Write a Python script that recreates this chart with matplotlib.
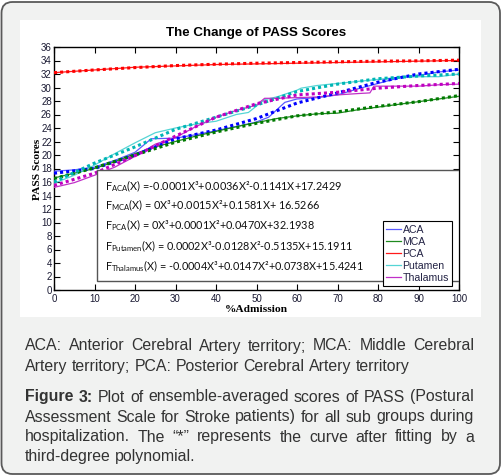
import matplotlib
matplotlib.use('Agg')
import matplotlib.pyplot as plt
from matplotlib.patches import FancyBboxPatch, Rectangle
from matplotlib.lines import Line2D
from matplotlib.transforms import IdentityTransform

# ---------------- data ----------------
groups = ['ACA', 'MCA', 'PCA', 'Putamen', 'Thalamus']

fit_x = [0, 10, 20, 30, 40, 50, 60, 70, 80, 90, 100]
aca_fit = [17.3, 18.0, 20.0, 22.4, 23.7, 25.4, 27.7, 29.2, 30.8, 32.0, 32.7]
mca_fit = [16.5, 18.1, 20.0, 21.9, 23.4, 24.7, 25.8, 26.4, 27.2, 27.9, 28.8]
pca_fit = [32.2, 32.6, 32.95, 33.25, 33.45, 33.6, 33.7, 33.8, 33.9, 33.95, 34.05]
put_fit = [16.0, 18.8, 21.2, 23.8, 25.6, 27.4, 29.4, 30.5, 31.3, 31.7, 32.0]
tha_fit = [15.5, 17.3, 19.9, 22.8, 25.6, 27.6, 28.9, 29.3, 29.9, 30.3, 30.6]

aca_raw_x = [0, 5, 10, 15, 20, 24, 30, 35, 40, 45, 50, 53, 57, 60, 65, 70, 75, 80, 85, 90, 95, 100]
aca_raw = [17.6, 17.8, 18.2, 19.2, 20.4, 22.4, 22.5, 23.0, 23.6, 24.2, 24.9, 25.6, 27.8, 28.3, 28.5,
           28.9, 29.8, 30.6, 31.4, 31.8, 32.3, 32.6]
mca_raw_x = [0, 5, 10, 15, 20, 25, 30, 35, 40, 45, 50, 55, 60, 65, 70, 75, 80, 85, 90, 95, 100]
mca_raw = [16.6, 17.3, 18.0, 19.0, 20.2, 21.2, 22.0, 22.8, 23.5, 24.2, 24.8, 25.4, 25.8, 26.1, 26.2,
           26.7, 27.1, 27.5, 27.9, 28.3, 28.7]
pca_raw_x = [0, 10, 20, 30, 40, 50, 60, 70, 80, 90, 100]
pca_raw = [32.2, 32.6, 33.0, 33.2, 33.4, 33.5, 33.6, 33.7, 33.8, 33.9, 34.0]
put_raw_x = [0, 5, 10, 15, 20, 25, 30, 35, 40, 45, 48, 52, 55, 60, 61, 65, 70, 75, 80, 85, 90, 95, 100]
put_raw = [15.8, 17.0, 18.5, 20.2, 21.8, 23.3, 24.0, 24.6, 25.0, 26.0, 26.3, 28.2, 28.6, 29.6, 29.9,
           30.3, 30.6, 30.9, 31.2, 31.5, 31.6, 31.6, 32.0]
tha_raw_x = [0, 5, 10, 15, 20, 25, 30, 35, 40, 45, 50, 52, 55, 60, 65, 70, 75, 78, 79, 85, 90, 95, 100]
tha_raw = [15.2, 15.9, 17.0, 18.2, 19.8, 21.6, 22.6, 24.2, 25.6, 26.6, 27.4, 28.4, 28.4, 28.5, 28.6,
           28.9, 29.1, 29.2, 30.2, 30.2, 30.2, 30.4, 30.5]

raw_x = [aca_raw_x, mca_raw_x, pca_raw_x, put_raw_x, tha_raw_x]
raw_y = [aca_raw, mca_raw, pca_raw, put_raw, tha_raw]
fit_y = [aca_fit, mca_fit, pca_fit, put_fit, tha_fit]

raw_colors = ['#5a5aff', '#1f8a1f', '#ff1a1a', '#55d5d5', '#c030c8']
fit_colors = ['#0000ff', '#007a00', '#ff0000', '#00b5b5', '#c000c0']

equations = [
    r'F$_{\mathrm{ACA}}$(X) =-0.0001X³+0.0036X²-0.1141X+17.2429',
    r'F$_{\mathrm{MCA}}$(X) = 0X³+0.0015X²+0.1581X+ 16.5266',
    r'F$_{\mathrm{PCA}}$(X) = 0X³+0.0001X²+0.0470X+32.1938',
    r'F$_{\mathrm{Putamen}}$(X) = 0.0002X³-0.0128X²-0.5135X+15.1911',
    r'F$_{\mathrm{Thalamus}}$(X) = -0.0004X³+0.0147X²+0.0738X+15.4241',
]

x_ticks = list(range(0, 101, 10))
y_ticks = list(range(0, 37, 2))

caption_lines = [
    ([('ACA:', 0), ('Anterior', 0), ('Cerebral', 0), ('Artery', 0), ('territory;', 0), ('MCA:', 0),
      ('Middle', 0), ('Cerebral', 0)], True, 350.5),
    ([('Artery', 0), ('territory;', 0), ('PCA:', 0), ('Posterior', 0), ('Cerebral', 0), ('Artery', 0),
      ('territory', 0)], False, 371),
    ([('Figure', 1), ('3:', 1), ('Plot', 0), ('of', 0), ('ensemble-averaged', 0), ('scores', 0), ('of', 0),
      ('PASS', 0), ('(Postural', 0)], True, 401.5),
    ([('Assessment', 0), ('Scale', 0), ('for', 0), ('Stroke', 0), ('patients)', 0), ('for', 0), ('all', 0),
      ('sub', 0), ('groups', 0), ('during', 0)], True, 421.5),
    ([('hospitalization.', 0), ('The', 0), ('“*”', 0), ('represents', 0), ('the', 0), ('curve', 0),
      ('after', 0), ('fitting', 0), ('by', 0), ('a', 0)], True, 441.5),
    ([('third-degree', 0), ('polynomial.', 0)], False, 461.5),
]

# ---------------- figure ----------------
plt.rcParams['font.family'] = ['Liberation Sans Narrow', 'Liberation Sans', 'DejaVu Sans']
plt.rcParams['mathtext.fontset'] = 'custom'
plt.rcParams['mathtext.rm'] = 'Lato'
plt.rcParams['mathtext.it'] = 'Lato:italic'
plt.rcParams['mathtext.bf'] = 'Lato:bold'

W, H = 502, 476
fig = plt.figure(figsize=(W / 100, H / 100), dpi=100)
fig.patch.set_facecolor('white')
ident = IdentityTransform()

outer = FancyBboxPatch((1.5, 2.0), 498.5, 472.0, boxstyle='round,pad=0,rounding_size=11',
                       transform=ident, facecolor='#f1f2f1', edgecolor='#5a5a5a', linewidth=1.3,
                       zorder=-10)
fig.add_artist(outer)
panel = Rectangle((20, H - 317), 461, 297, transform=ident, facecolor='white', edgecolor='none',
                  zorder=-9)
fig.add_artist(panel)

ax = fig.add_axes([54 / W, 1 - 290 / H, 405 / W, 243 / H])
ax.set_xlim(0, 100)
ax.set_ylim(0, 36)
ax.set_xticks(x_ticks)
ax.set_yticks(y_ticks)
ax.tick_params(direction='in', length=4, width=0.8, top=True, right=True, labelsize=7.0,
               labelcolor='#1a1a33')
ax.tick_params(axis='y', pad=1.5)
ax.tick_params(axis='x', pad=3)
for s in ax.spines.values():
    s.set_linewidth(1.0)

handles = []
for i, g in enumerate(groups):
    ln, = ax.plot(raw_x[i], raw_y[i], color=raw_colors[i], lw=0.9, zorder=3)
    handles.append(ln)
for i, g in enumerate(groups):
    ax.plot(fit_x, fit_y[i], color=fit_colors[i], lw=2.2, ls=(0, (1.0, 1.0)), zorder=4)

# equation box
box = Rectangle((0.105, 0.037), 0.895, 0.456, transform=ax.transAxes, facecolor='white',
                edgecolor='#555555', linewidth=1.0, zorder=5)
ax.add_patch(box)
eq_y = [0.428, 0.347, 0.265, 0.182, 0.099]
for t, yy in zip(equations, eq_y):
    ax.text(0.126, yy, t, transform=ax.transAxes, fontsize=7.8, family='Lato', va='center',
            ha='left', color='#111111', zorder=6)

leg = ax.legend(handles, groups, loc='lower right', bbox_to_anchor=(0.983, 0.016),
                fancybox=False, edgecolor='black', framealpha=1, borderaxespad=0,
                prop={'family': 'Liberation Sans', 'size': 7.6}, handlelength=1.4,
                handletextpad=0.15, labelspacing=0.2, borderpad=0.3)
leg.get_frame().set_linewidth(0.8)
leg.set_zorder(7)
for txt in leg.get_texts():
    txt.set_color('#222244')

# titles / labels in pixel coordinates
fig.text(256, H - 33, 'The Change of PASS Scores', transform=ident, ha='center', va='center',
         family='Liberation Sans', weight='bold', fontsize=9.6, color='black')
fig.text(37, H - 169, 'PASS Scores', transform=ident, ha='center', va='center', rotation=90,
         family='Liberation Serif', weight='bold', fontsize=8.2, color='black')
fig.text(256, H - 310, '%Admission', transform=ident, ha='center', va='center',
         family='Liberation Serif', weight='bold', fontsize=8.2, color='black')

# caption, justified
renderer = fig.canvas.get_renderer()
X0, X1 = 25, 474
CAP_FS = 11.4
for words, justify, base in caption_lines:
    texts = []
    for w, b in words:
        t = fig.text(0, 0, w, transform=ident, ha='left', va='baseline', fontsize=CAP_FS,
                     family='Liberation Sans', weight='bold' if b else 'normal', color='#333333')
        texts.append(t)
    widths = [t.get_window_extent(renderer).width for t in texts]
    if justify and len(texts) > 1:
        gap = (X1 - X0 - sum(widths)) / (len(texts) - 1)
    else:
        gap = CAP_FS * 100 / 72 * 0.278
    x = X0
    for t, w in zip(texts, widths):
        t.set_position((x, H - base))
        x += w + gap

fig.savefig('out.png', dpi=100, facecolor='white')
